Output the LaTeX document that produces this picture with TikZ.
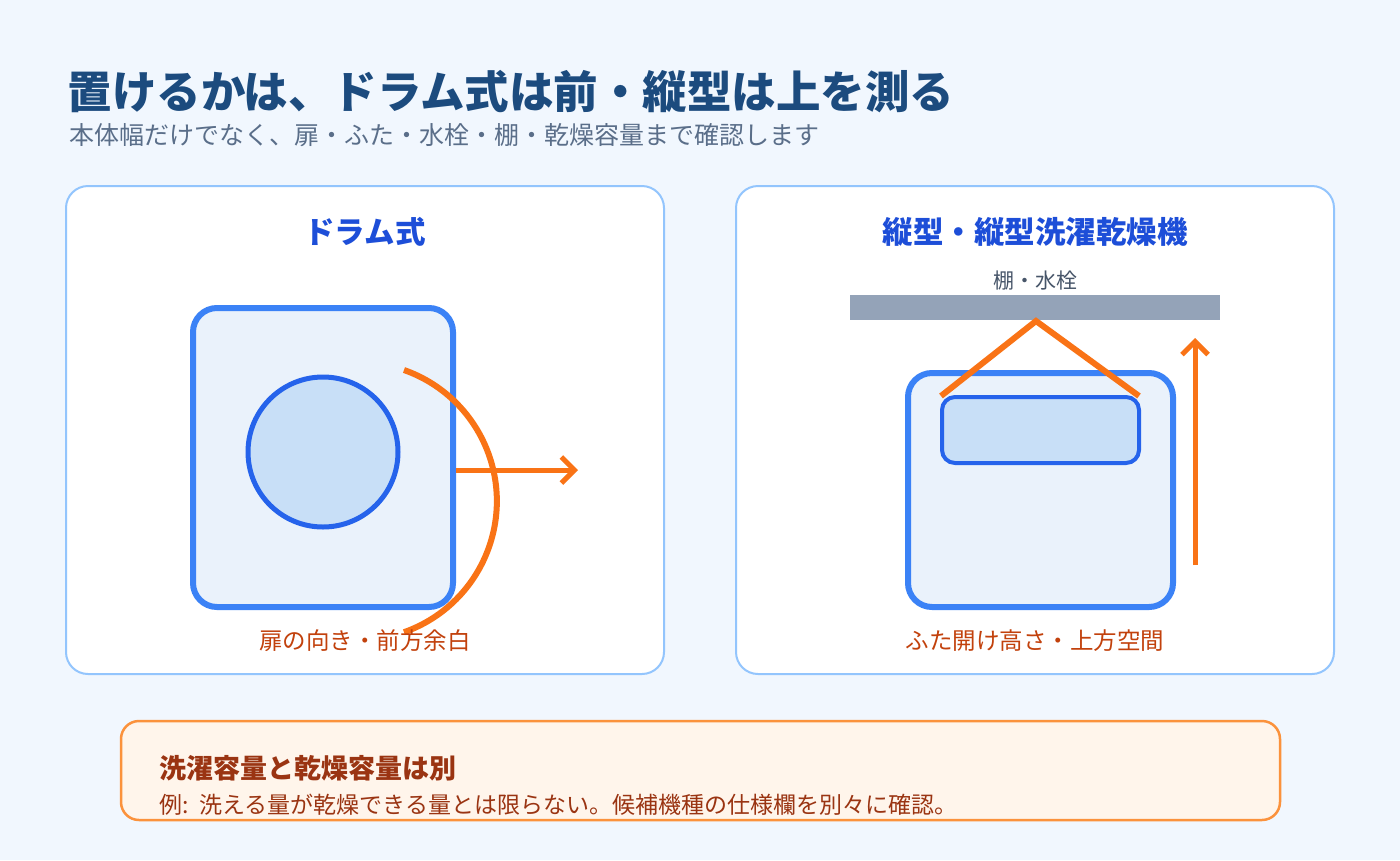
\documentclass[tikz,border=0pt]{standalone}
\usepackage{fontspec}
\setmainfont{Noto Sans CJK JP}
\usepackage{xcolor}
\usetikzlibrary{arrows.meta}
\definecolor{WashBack}{HTML}{F1F7FE}
\definecolor{WashTitle}{HTML}{1C4B7E}
\definecolor{WashSub}{HTML}{5A6E89}
\definecolor{WashPanelLine}{HTML}{93C5FD}
\definecolor{WashHead}{HTML}{1D4ED8}
\definecolor{WashBody}{HTML}{3B82F6}
\definecolor{WashBodyFill}{HTML}{EAF2FB}
\definecolor{WashDrum}{HTML}{2563EB}
\definecolor{WashDrumFill}{HTML}{C8DFF7}
\definecolor{WashOrange}{HTML}{F97316}
\definecolor{WashCaption}{HTML}{C2410C}
\definecolor{WashShelf}{HTML}{94A3B8}
\definecolor{WashShelfText}{HTML}{475569}
\definecolor{WashNoteLine}{HTML}{FB923C}
\definecolor{WashNoteFill}{HTML}{FFF5EB}
\definecolor{WashNoteText}{HTML}{9A3412}
\tikzset{
  panel/.style={draw=WashPanelLine,fill=white,line width=2pt,rounded corners=22pt},
  machine/.style={draw=WashBody,fill=WashBodyFill,line width=6pt,rounded corners=24pt},
  swing/.style={draw=WashOrange,line width=6pt},
  push/.style={draw=WashOrange,line width=5pt,-{Straight Barb[length=13pt,width=26pt,line width=5pt]}},
  caption/.style={text=WashCaption,font=\fontsize{23.5}{28}\selectfont},
  headline/.style={text=WashHead,font=\bfseries\fontsize{30.5}{36}\selectfont}
}

\begin{document}
\begin{tikzpicture}[x=1pt,y=-1pt]

    \fill[WashBack] (0,0) rectangle (1400,860);
    \useasboundingbox (0,0) rectangle (1400,860);

    % title and subtitle
    \node[
      anchor=base west,
      text=WashTitle,
      font=\bfseries\fontsize{44.5}{52}\selectfont
    ]
      (title) at (64,108)
      {置けるかは、ドラム式は前・縦型は上を測る};

    \node[
      anchor=base west,
      text=WashSub,
      font=\fontsize{25}{30}\selectfont
    ]
      (subtitle) at (66,144)
      {本体幅だけでなく、扉・ふた・水栓・棚・乾燥容量まで確認します};

    % left panel: drum type
    \draw[panel] (66,186) rectangle (664,674);
    \node[headline] (drumhead) at (365,232) {ドラム式};

    \draw[machine] (193,308) rectangle (453,607);
    \draw[WashDrum,fill=WashDrumFill,line width=5pt]
      (323,452) circle[radius=75];

    \coordinate (doortop) at (404,370);
    \draw[swing]
      (doortop) arc[start angle=-70.6,end angle=70.6,radius=139];

    \coordinate (frontfrom) at (456,470);
    \coordinate (frontto) at (578,470);
    \draw[push] (frontfrom) -- (frontto);

    \node[caption] (drumcap) at (365,641) {扉の向き・前方余白};

    % right panel: top loader
    \draw[panel] (736,186) rectangle (1334,674);
    \node[headline] (tophead) at (1035,232) {縦型・縦型洗濯乾燥機};

    \node[
      text=WashShelfText,
      font=\fontsize{21}{25}\selectfont
    ]
      (shelflabel) at (1035,281)
      {棚・水栓};
    \fill[WashShelf] (850,295) rectangle (1220,320);

    \draw[machine] (908,373) rectangle (1173,607);
    \draw[WashDrum,fill=WashDrumFill,line width=4pt,rounded corners=13pt]
      (942,397) rectangle (1139,463);

    \coordinate (lidleft) at (941,396);
    \coordinate (lidpeak) at (1036,321);
    \coordinate (lidright) at (1139,396);
    \draw[swing] (lidleft) -- (lidpeak) -- (lidright);

    \coordinate (upfrom) at (1195,565);
    \coordinate (upto) at (1195,338);
    \draw[push] (upfrom) -- (upto);

    \node[caption] (topcap) at (1035,641) {ふた開け高さ・上方空間};

    % note box
    \draw[draw=WashNoteLine,fill=WashNoteFill,line width=2.5pt,rounded corners=18pt]
      (121,721) rectangle (1280,820);

    \node[
      anchor=west,
      text=WashNoteText,
      font=\bfseries\fontsize{27}{32}\selectfont
    ]
      (notehead) at (156,768)
      {洗濯容量と乾燥容量は別};

    \node[
      anchor=west,
      text=WashNoteText,
      font=\fontsize{23}{27}\selectfont
    ]
      (notebody) at (156,805)
      {例:\ \ 洗える量が乾燥できる量とは限らない。候補機種の仕様欄を別々に確認。};

  \end{tikzpicture}
\end{document}
